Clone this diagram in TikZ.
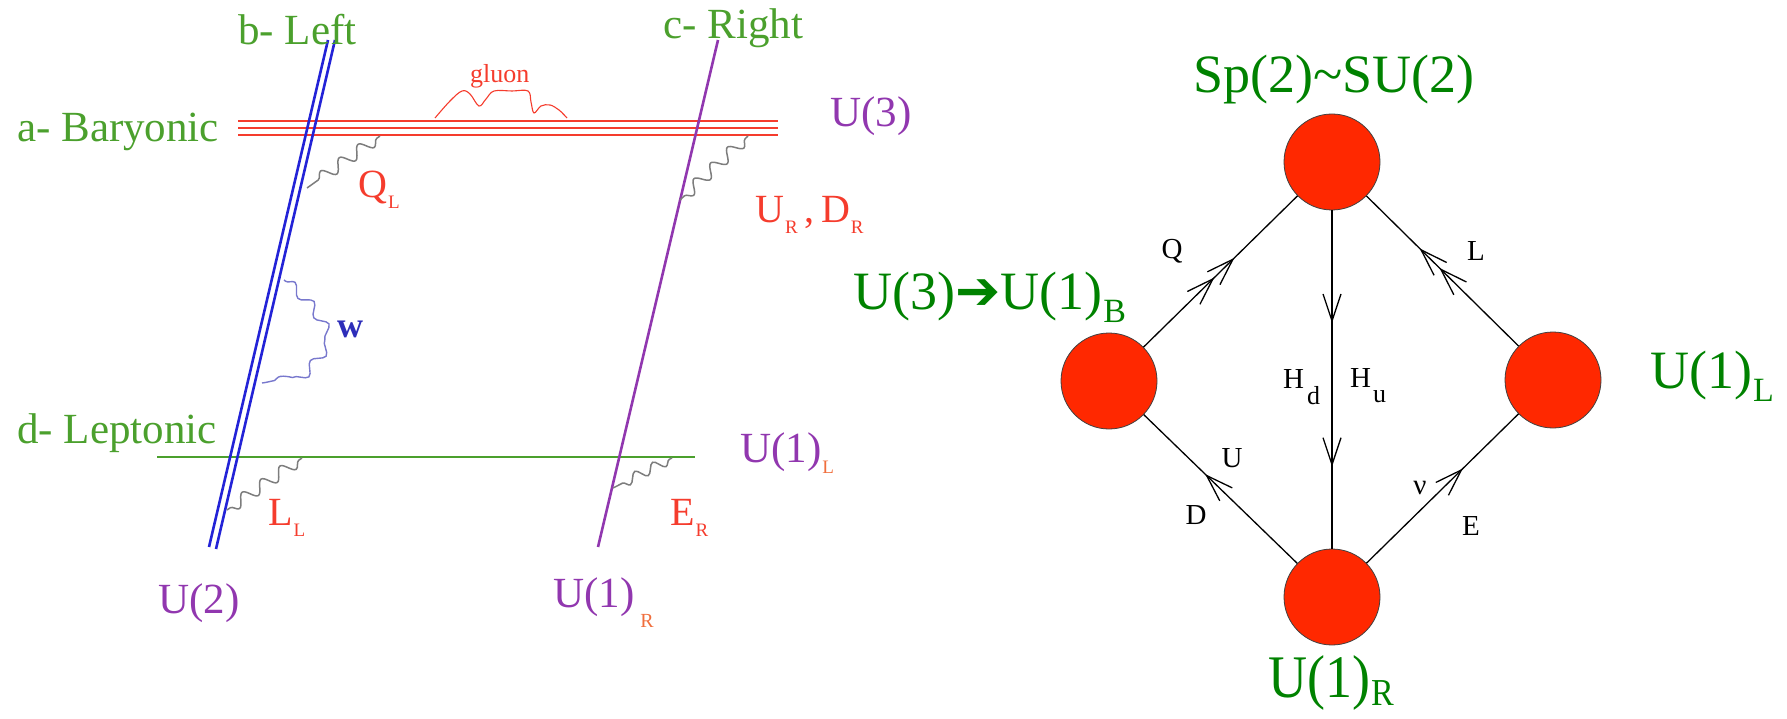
\documentclass[tikz,border=0pt]{standalone}
\usepackage{fontspec}
\setmainfont{Liberation Serif}
\newfontfamily\lserif{Liberation Serif}
\newfontfamily\symfont{DejaVu Sans}
\usetikzlibrary{arrows.meta,decorations.pathmorphing,decorations.markings}
\definecolor{lgreen}{RGB}{75,160,45}
\definecolor{dgreen}{RGB}{0,130,0}
\definecolor{purp}{RGB}{145,55,175}
\definecolor{lred}{RGB}{245,60,45}
\definecolor{subor}{RGB}{240,110,60}
\definecolor{lblue}{RGB}{35,35,215}
\definecolor{wblue}{RGB}{120,120,205}
\definecolor{wgrey}{RGB}{125,125,125}
\definecolor{dotred}{RGB}{255,40,0}
\newcommand\lsb[2][lred]{\kern1pt\raisebox{-11pt}{\fontsize{19}{19}\selectfont\color{#1}#2}}
\newcommand\gsb[1]{\kern1pt\raisebox{-13pt}{\fontsize{34}{34}\selectfont #1}}
\newcommand\barbtip{\arrow{Straight Barb[length=27pt,width=18pt]}}
\begin{document}
\begin{tikzpicture}[x=1pt,y=-1pt,
  lbl/.style={anchor=base west,inner sep=0pt,font=\lserif\fontsize{43}{46}\selectfont},
  grn/.style={lbl,text=lgreen},
  pur/.style={lbl,text=purp},
  rlb/.style={anchor=base west,inner sep=0pt,text=lred,font=\lserif\fontsize{40}{44}\selectfont},
  big/.style={anchor=base west,inner sep=0pt,text=dgreen,font=\lserif\fontsize{54}{60}\selectfont},
  elab/.style={inner sep=0pt,font=\lserif\fontsize{29}{30}\selectfont},
  dot/.style={circle,fill=dotred,draw=black!75,line width=0.8pt,minimum size=96pt,inner sep=0pt},
  conn/.style={line width=1.3pt,draw=black},
  mk/.style={postaction={decorate},decoration={markings,#1}},
  bary/.style={draw=lred,line width=2.4pt},
  blueline/.style={draw=lblue,line width=2.6pt},
  wig/.style={draw=wgrey,line width=1.5pt,decorate,decoration={snake,amplitude=6pt,segment length=23pt,pre length=4pt,post length=3pt}},
]
\useasboundingbox (0,0) rectangle (1787,719);

% ---------- left diagram ----------
\coordinate (bl1) at (238,121); \coordinate (br1) at (778,121);
\coordinate (bl2) at (238,128); \coordinate (br2) at (778,128);
\coordinate (bl3) at (238,135); \coordinate (br3) at (778,135);
\draw[bary] (bl1) -- (br1);
\draw[bary] (bl2) -- (br2);
\draw[bary] (bl3) -- (br3);

\coordinate (gl) at (157,457); \coordinate (gr) at (695,457);
\draw[draw=lgreen,line width=2.8pt] (gl) -- (gr);

\coordinate (b1t) at (328,40); \coordinate (b1b) at (209,547);
\coordinate (b2t) at (335,40); \coordinate (b2b) at (216,549);
\draw[blueline] (b1t) -- (b1b);
\draw[blueline] (b2t) -- (b2b);

\coordinate (pt) at (718,40); \coordinate (pb) at (598,547);
\draw[draw=purp,line width=2.6pt] (pt) -- (pb);

% gluon
\draw[draw=lred,line width=1.1pt] plot[smooth,tension=0.6] coordinates {(435,118) (450,101) (462,91) (470,94) (479,106) (486,99) (494,91) (512,91) (528,91) (531,102) (534,113) (541,106) (550,105) (559,110) (567,118)};

% wiggles
\coordinate (qa) at (380,136); \coordinate (qb) at (307,188);
\coordinate (ua) at (748,136); \coordinate (ub) at (680,200);
\coordinate (la) at (302,458); \coordinate (lb) at (227,510);
\coordinate (ea) at (672,458); \coordinate (eb) at (613,488);
\draw[wig] (qa) -- (qb);
\draw[wig] (ua) -- (ub);
\draw[wig] (la) -- (lb);
\draw[wig,decoration={snake,amplitude=5pt,segment length=20pt,pre length=3pt,post length=3pt}] (ea) -- (eb);

\coordinate (wa) at (284,280); \coordinate (wb) at (323,330); \coordinate (wc) at (262,383);
\draw[draw=wblue,line width=1.4pt,decorate,decoration={snake,amplitude=5pt,segment length=26pt,pre length=2pt,post length=3pt}]
  (wa) .. controls (300,292) and (316,312) .. (wb) .. controls (310,352) and (290,380) .. (wc);

% left labels
\node[grn] (tb) at (238,45) {b- Left};
\node[grn] (tc) at (663,39) {c- Right};
\node[grn] (ta) at (17,142) {a- Baryonic};
\node[grn] (td) at (17,443) {d- Leptonic};
\node[pur] (u3) at (830,127) {U(3)};
\node[pur] (u1l) at (740,462) {U(1)\lsb[subor]{L}};
\node[pur] (u2) at (158,613) {U(2)};
\node[pur] (u1r) at (553,607) {U(1)\kern6pt\raisebox{-20pt}{\fontsize{20}{20}\selectfont\color{subor}R}};
\node[rlb] (tql) at (358,198) {Q\lsb{L}};
\node[rlb] (tudr) at (755,223) {U\lsb{R}\,,\,D\lsb{R}};
\node[rlb] (tll) at (268,525) {L\lsb{L}};
\node[rlb] (ter) at (670,525) {E\lsb{R}};
\node[anchor=base west,inner sep=0pt,text=lred,font=\lserif\fontsize{26}{28}\selectfont] (tgl) at (470,83) {gluon};
\node[anchor=base west,inner sep=0pt,text={rgb,255:red,45;green,45;blue,185},font=\lserif\fontsize{36}{38}\selectfont\bfseries] (tw) at (337,337) {w};

% ---------- right diagram ----------
\node[dot] (T) at (1332,162) {};
\node[dot] (Lf) at (1109,381) {};
\node[dot] (Rt) at (1553,380) {};
\node[dot] (Bt) at (1332,597) {};

\draw[conn,mk={mark=at position 0.46 with {\barbtip}, mark=at position 0.59 with {\barbtip}}] (Lf) -- (T);
\draw[conn,mk={mark=at position 0.52 with {\barbtip}, mark=at position 0.65 with {\barbtip}}] (Rt) -- (T);
\draw[conn,mk={mark=at position 0.333 with {\barbtip}, mark=at position 0.758 with {\barbtip}}] (T) -- (Bt);
\draw[conn,mk={mark=at position 0.6 with {\barbtip}}] (Bt) -- (Lf);
\draw[conn,mk={mark=at position 0.634 with {\barbtip}}] (Bt) -- (Rt);

\node[big] (tsp) at (1193,93) {Sp(2)\textasciitilde SU(2)};
\node[big] (tu31) at (853,309) {U(3){\symfont\fontsize{54}{56}\selectfont ➔}U(1)\gsb{B}};
\node[big] (tg1l) at (1650,388) {U(1)\gsb{L}};
\node[big] (tg1r) at (1268,697) {\scalebox{1}[1.12]{U(1)\kern1pt\raisebox{-8pt}{\fontsize{34}{34}\selectfont R}}};

\node[elab] (lq) at (1172,251) {Q};
\node[elab] (lL) at (1476,251) {L};
\node[elab,anchor=base west] (lhd) at (1283,388) {H\kern3pt\raisebox{-16pt}{\fontsize{26}{26}\selectfont d}};
\node[elab,anchor=base west] (lhu) at (1350,387) {H\kern2pt\raisebox{-15pt}{\fontsize{26}{26}\selectfont u}};
\node[elab] (lu) at (1232,458) {U};
\node[elab] (ld) at (1196,515) {D};
\node[elab] (lnu) at (1420,488) {ν};
\node[elab] (le) at (1471,526) {E};
\end{tikzpicture}
\end{document}
